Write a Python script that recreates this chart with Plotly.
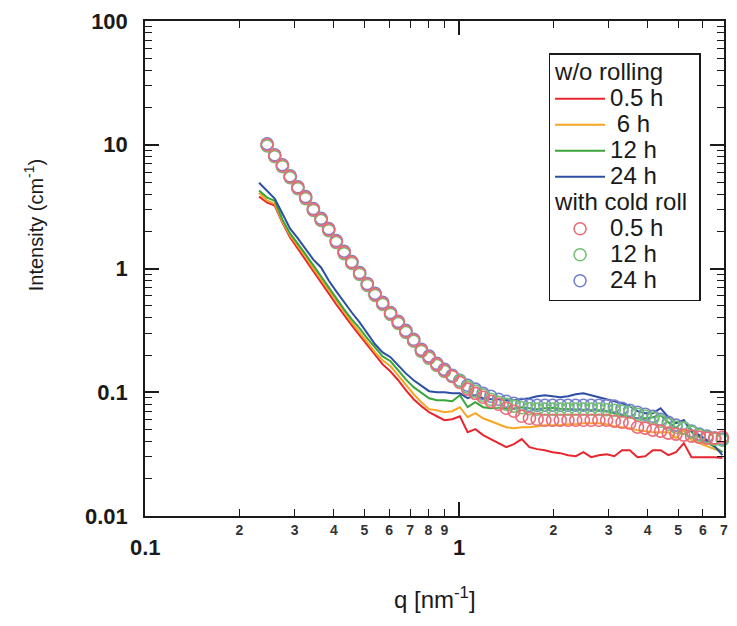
import math
import plotly.graph_objects as go

# ---------------- data ----------------
q = [0.231, 0.245, 0.259, 0.274, 0.290, 0.307, 0.325, 0.344, 0.364, 0.385,
     0.407, 0.431, 0.456, 0.483, 0.511, 0.541, 0.572, 0.606, 0.641, 0.678,
     0.718, 0.760, 0.804, 0.851, 0.900, 0.953, 1.008, 1.067, 1.129, 1.195,
     1.265, 1.339, 1.417, 1.499, 1.587, 1.679, 1.777, 1.880, 1.990, 2.106,
     2.228, 2.358, 2.495, 2.641, 2.795, 2.958, 3.130, 3.313, 3.506, 3.710,
     3.926, 4.155, 4.397, 4.653, 4.924, 5.212, 5.515, 5.837, 6.177, 6.537,
     6.918]

# w/o rolling (lines)
I_05h = [3.81, 3.40, 3.22, 2.35, 1.78, 1.45, 1.18, 0.946, 0.771, 0.629,
         0.512, 0.418, 0.347, 0.288, 0.239, 0.199, 0.168, 0.147, 0.125, 0.104,
         0.0878, 0.0772, 0.0690, 0.0640, 0.0594, 0.0605, 0.0640, 0.0476, 0.0503, 0.0450,
         0.0418, 0.0388, 0.0360, 0.0381, 0.0418, 0.0360, 0.0347, 0.0340, 0.0328, 0.0322,
         0.0310, 0.0304, 0.0328, 0.0299, 0.0310, 0.0316, 0.0304, 0.0340, 0.0340, 0.0299,
         0.0304, 0.0340, 0.0340, 0.0310, 0.0328, 0.0388, 0.0299, 0.0299, 0.0299, 0.0299,
         0.0294]
I_6h = [4.10, 3.53, 3.34, 2.40, 1.85, 1.53, 1.25, 1.00, 0.815, 0.665,
        0.542, 0.441, 0.367, 0.305, 0.253, 0.210, 0.181, 0.162, 0.137, 0.114,
        0.0964, 0.0831, 0.0730, 0.0716, 0.0690, 0.0703, 0.0757, 0.0628, 0.0677, 0.0616,
        0.0583, 0.0551, 0.0522, 0.0513, 0.0522, 0.0522, 0.0532, 0.0542, 0.0542, 0.0542,
        0.0551, 0.0551, 0.0562, 0.0562, 0.0562, 0.0551, 0.0532, 0.0522, 0.0513, 0.0494,
        0.0485, 0.0476, 0.0476, 0.0476, 0.0426, 0.0494, 0.0410, 0.0388, 0.0367, 0.0347,
        0.0328]
I_12h = [4.26, 3.74, 3.53, 2.49, 1.92, 1.59, 1.30, 1.06, 0.862, 0.702,
         0.573, 0.467, 0.388, 0.328, 0.272, 0.230, 0.195, 0.178, 0.150, 0.127,
         0.110, 0.100, 0.0895, 0.0862, 0.0862, 0.0846, 0.0946, 0.0757, 0.0831, 0.0757,
         0.0743, 0.0750, 0.0737, 0.0743, 0.0757, 0.0743, 0.0730, 0.0743, 0.0750, 0.0737,
         0.0730, 0.0730, 0.0716, 0.0716, 0.0716, 0.0703, 0.0677, 0.0652, 0.0628, 0.0616,
         0.0616, 0.0628, 0.0652, 0.0572, 0.0513, 0.0594, 0.0476, 0.0434, 0.0395, 0.0360,
         0.0328]
I_24h = [4.93, 4.26, 3.67, 2.78, 2.10, 1.75, 1.42, 1.18, 1.02, 0.800,
         0.653, 0.532, 0.441, 0.367, 0.299, 0.244, 0.210, 0.192, 0.165, 0.142,
         0.125, 0.112, 0.102, 0.100, 0.100, 0.098, 0.098, 0.0895, 0.0946, 0.0895,
         0.0878, 0.0878, 0.0862, 0.0862, 0.0878, 0.0895, 0.0929, 0.0946, 0.0929, 0.0912,
         0.0929, 0.0964, 0.098, 0.0946, 0.0912, 0.0878, 0.0846, 0.0815, 0.0772, 0.0703,
         0.0677, 0.0677, 0.0743, 0.0628, 0.0562, 0.0594, 0.0494, 0.0450, 0.0410, 0.0367,
         0.031]

# with cold roll (open circles), starting at the second q value
q_roll = q[1:]
R_05h = [10.0, 8.15, 6.77, 5.52, 4.50, 3.74, 2.99, 2.49, 2.06, 1.65,
         1.35, 1.12, 0.912, 0.743, 0.617, 0.522, 0.433, 0.367, 0.310, 0.263,
         0.218, 0.192, 0.168, 0.150, 0.134, 0.120, 0.106, 0.098, 0.0912, 0.0846,
         0.0800, 0.0743, 0.0703, 0.0640, 0.0616, 0.0605, 0.0594, 0.0594, 0.0594, 0.0594,
         0.0594, 0.0594, 0.0594, 0.0594, 0.0594, 0.0583, 0.0572, 0.0562, 0.0522, 0.0513,
         0.0494, 0.0485, 0.0467, 0.0459, 0.0450, 0.0442, 0.0434, 0.0426, 0.0426, 0.0434]
R_12h = [9.8, 8.0, 6.65, 5.42, 4.42, 3.67, 2.94, 2.44, 2.02, 1.62,
         1.32, 1.10, 0.895, 0.729, 0.606, 0.512, 0.425, 0.360, 0.304, 0.258,
         0.214, 0.188, 0.165, 0.147, 0.134, 0.123, 0.110, 0.102, 0.0946, 0.0878,
         0.0831, 0.0800, 0.0772, 0.0750, 0.0737, 0.0730, 0.0730, 0.0730, 0.0730, 0.0730,
         0.0730, 0.0730, 0.0730, 0.0730, 0.0723, 0.0716, 0.0703, 0.0690, 0.0665, 0.0640,
         0.0616, 0.0583, 0.0551, 0.0522, 0.0513, 0.0476, 0.0450, 0.0434, 0.0418, 0.0410]
R_24h = [10.2, 8.3, 6.9, 5.62, 4.58, 3.81, 3.05, 2.54, 2.10, 1.68,
         1.38, 1.14, 0.929, 0.757, 0.629, 0.532, 0.441, 0.374, 0.316, 0.268,
         0.222, 0.196, 0.171, 0.153, 0.137, 0.125, 0.114, 0.106, 0.098, 0.0929,
         0.0878, 0.0846, 0.0815, 0.0800, 0.0786, 0.0786, 0.0786, 0.0786, 0.0786, 0.0786,
         0.0786, 0.0786, 0.0786, 0.0786, 0.0779, 0.0772, 0.0743, 0.0716, 0.0690, 0.0665,
         0.0640, 0.0605, 0.0572, 0.0542, 0.0513, 0.0485, 0.0459, 0.0442, 0.0426, 0.0418]

line_labels = ["0.5 h", "\u00a06 h", "12 h", "24 h"]
roll_labels = ["0.5 h", "12 h", "24 h"]
group_titles = ["w/o rolling", "with cold roll"]

x_minor_vals = [0.2, 0.3, 0.4, 0.5, 0.6, 0.7, 0.8, 0.9, 2, 3, 4, 5, 6, 7]
x_minor_text = ["2", "3", "4", "5", "6", "7", "8", "9", "2", "3", "4", "5", "6", "7"]
x_major_vals = [0.1, 1]
x_major_text = ["0.1", "1"]
y_major_vals = [0.01, 0.1, 1, 10, 100]
y_major_text = ["0.01", "0.1", "1", "10", "100"]
y_minor_vals = [m * 10.0 ** e for e in range(-2, 2) for m in range(2, 10)]

# ---------------- style ----------------
FONT = "Liberation Sans, Arial, Helvetica, sans-serif"
INK = "#1a1a1a"
line_colors = ["#e8262e", "#f6a623", "#3aa53a", "#2d4fa3"]
circ_colors = ["#ec6b78", "#72c272", "#7480cc"]
LEG_FS = 17.7
LEG_TXT = 24


def big(t, size=LEG_TXT):
    return '<span style="font-size:%dpx">%s</span>' % (size, t)


fig = go.Figure()

for k, (ys, name) in enumerate(zip([I_05h, I_6h, I_12h, I_24h], line_labels)):
    fig.add_trace(go.Scatter(
        x=q, y=ys, mode="lines", name=big(name),
        line=dict(color=line_colors[k], width=2),
        legendgroup="wo", legendrank=k + 1,
        legendgrouptitle=dict(text=big(group_titles[0]),
                              font=dict(family=FONT, size=LEG_FS, color=INK)),
    ))

roll_series = [R_05h, R_12h, R_24h]
for k in [2, 1, 0]:
    fig.add_trace(go.Scatter(
        x=q_roll, y=roll_series[k], mode="markers", name=big(roll_labels[k]),
        marker=dict(symbol="circle-open", size=12, color=circ_colors[k],
                    line=dict(width=1.6, color=circ_colors[k])),
        cliponaxis=False,
        legendgroup="roll", legendrank=10 + k,
        legendgrouptitle=dict(text=big(group_titles[1]),
                              font=dict(family=FONT, size=LEG_FS, color=INK)),
    ))

axis_common = dict(
    type="log", showline=True, linecolor=INK, linewidth=1.5, mirror="allticks",
    ticks="inside", tickcolor=INK, showgrid=False, zeroline=False,
)

fig.update_xaxes(
    **axis_common,
    range=[-1, 0.8451],
    tickmode="array", tickvals=x_minor_vals, ticktext=x_minor_text, ticklen=7,
    tickwidth=1.3,
    tickfont=dict(family=FONT, size=14, color="#333333", weight="bold"),
    minor=dict(ticks="inside", ticklen=14, tickwidth=1.5, tickcolor=INK,
               tickmode="array", tickvals=x_major_vals, showgrid=False),
)
fig.update_yaxes(
    **axis_common,
    range=[-2, 2],
    tickmode="array", tickvals=y_major_vals, ticktext=y_major_text, ticklen=14,
    tickwidth=1.5, ticklabelstandoff=11,
    tickfont=dict(family=FONT, size=22, color=INK, weight="bold"),
    minor=dict(ticks="inside", ticklen=7, tickwidth=1.3, tickcolor=INK,
               tickmode="array", tickvals=y_minor_vals, showgrid=False),
)

annotations = []
for v, t in zip(x_major_vals, x_major_text):
    annotations.append(dict(
        x=math.log10(v), xref="x", y=-0.0645, yref="paper", text=t,
        showarrow=False, xanchor="center", yanchor="middle",
        font=dict(family=FONT, size=22, color=INK, weight="bold")))
annotations.append(dict(
    x=0.5, xref="paper", y=-0.165, yref="paper", text="q [nm<sup>-1</sup>]",
    showarrow=False, xanchor="center", yanchor="middle",
    font=dict(family=FONT, size=24, color=INK)))
annotations.append(dict(
    x=-0.192, xref="paper", y=0.587, yref="paper",
    text="Intensity (cm<sup>-1</sup>)", textangle=-90,
    showarrow=False, xanchor="center", yanchor="middle",
    font=dict(family=FONT, size=20, color=INK)))

fig.update_layout(
    width=737, height=626,
    margin=dict(l=145, r=9, t=20, b=110),
    paper_bgcolor="white", plot_bgcolor="white",
    font=dict(family=FONT, color=INK),
    annotations=annotations,
    showlegend=True,
    legend=dict(
        x=0.697, y=0.935, xanchor="left", yanchor="top",
        bgcolor="white", bordercolor=INK, borderwidth=1.5,
        font=dict(family=FONT, size=LEG_FS, color=INK),
        traceorder="grouped", tracegroupgap=0, itemwidth=50,
    ),
)

fig.write_html("out.html")
